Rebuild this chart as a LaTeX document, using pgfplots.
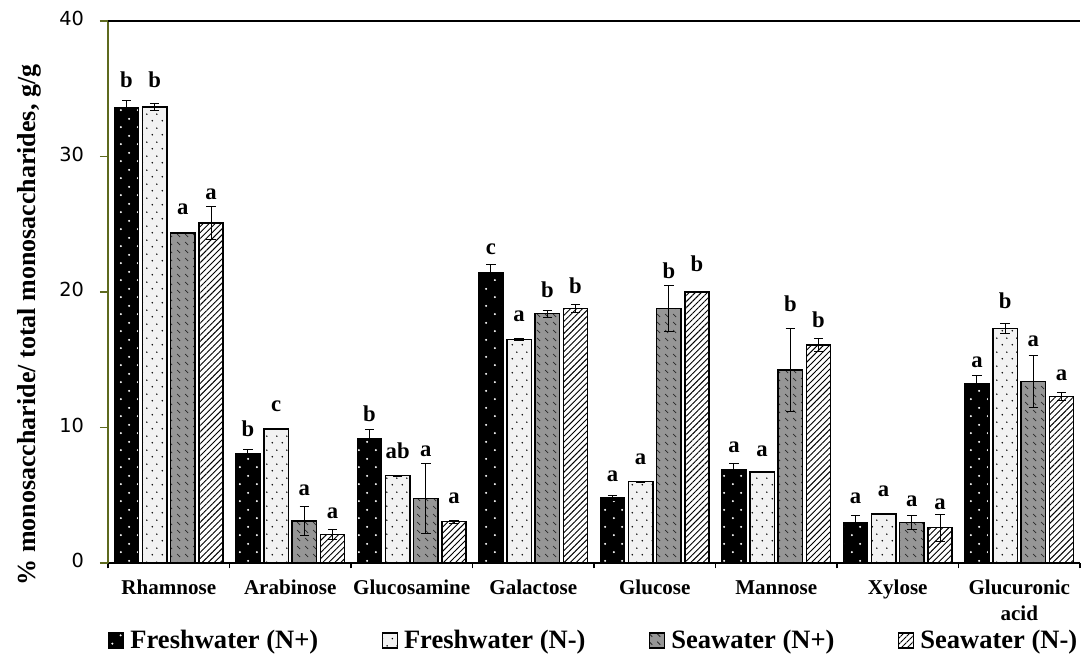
\documentclass[border=0pt]{standalone}
\usepackage{fontspec}
\setmainfont{Liberation Serif}
\newfontfamily\ticksans{DejaVu Sans}
\usepackage{pgfplots}
\usepackage{pgfplotstable}
\pgfplotsset{compat=1.18}
\usetikzlibrary{patterns,patterns.meta}
\definecolor{olivec}{RGB}{94,106,30}
\definecolor{lightfill}{RGB}{242,242,242}
\definecolor{grayfill}{RGB}{150,150,150}
\definecolor{dashc}{RGB}{40,40,40}

\pgfdeclarepatternformonly{bigdots}{\pgfpointorigin}{\pgfpoint{12.5pt}{12.5pt}}{\pgfpoint{12.5pt}{12.5pt}}{
  \pgfpathcircle{\pgfpoint{3pt}{3pt}}{0.85pt}
  \pgfpathcircle{\pgfpoint{9.25pt}{9.25pt}}{0.85pt}
  \pgfusepath{fill}}
\pgfdeclarepatternformonly{smalldots}{\pgfpointorigin}{\pgfpoint{7.5pt}{10.5pt}}{\pgfpoint{7.5pt}{10.5pt}}{
  \pgfpathcircle{\pgfpoint{1.875pt}{2.625pt}}{0.65pt}
  \pgfpathcircle{\pgfpoint{5.625pt}{7.875pt}}{0.65pt}
  \pgfusepath{fill}}
\pgfdeclarepatternformonly{dashdiag}{\pgfpointorigin}{\pgfpoint{6pt}{6pt}}{\pgfpoint{6pt}{6pt}}{
  \pgfsetlinewidth{0.6pt}
  \pgfpathmoveto{\pgfpoint{1pt}{5pt}}
  \pgfpathlineto{\pgfpoint{3.5pt}{2.5pt}}
  \pgfusepath{stroke}}

% x y err lab lb(label baseline)
\pgfplotstableread{
x y err lab lb
0 33.6 0.5 b 35.1
1 8.1 0.25 b 9.35
2 9.2 0.65 b 10.45
3 21.4 0.6 c 22.8
4 4.8 0.2 a 6.0
5 6.9 0.45 a 8.15
6 3.0 0.5 a 4.4
7 13.2 0.65 a 14.4
}\fwp
\pgfplotstableread{
x y err lab lb
0 33.65 0.25 b 35.1
1 9.9 0.05 c 11.2
2 6.45 0.03 ab 7.7
3 16.5 0.1 a 17.8
4 6.0 0.05 a 7.25
5 6.7 0.03 a 7.85
6 3.6 0.03 a 4.9
7 17.3 0.35 b 18.8
}\fwm
\pgfplotstableread{
x y err lab lb
0 24.35 0.05 a 25.7
1 3.1 1.05 a 5.0
2 4.75 2.6 a 7.85
3 18.4 0.25 b 19.6
4 18.8 1.7 b 21.0
5 14.25 3.05 b 18.55
6 3.0 0.5 a 4.2
7 13.4 1.9 a 16.0
}\swp
\pgfplotstableread{
x y err lab lb
0 25.1 1.2 a 26.8
1 2.1 0.35 a 3.3
2 3.05 0.12 a 4.4
3 18.8 0.3 b 19.9
4 20.0 0.05 b 21.5
5 16.1 0.5 b 17.35
6 2.6 1.0 a 3.95
7 12.3 0.3 a 13.5
}\swm

\pgfplotsset{
  errlab/.style={ybar, bar width=0.2, bar shift=0, draw=none, fill=none, forget plot,
    point meta=explicit symbolic,
    visualization depends on={\thisrow{lb}-\thisrow{y} \as \dlab},
    nodes near coords,
    nodes near coords style={anchor=base, inner sep=0pt, yshift=\dlab*10.1625pt,
      font=\bfseries\fontsize{17}{20}\selectfont, text=black},
    error bars/.cd, y dir=both, y explicit,
    error bar style={draw=black, solid, line width=0.75pt},
    error mark options={rotate=90, mark size=3.5pt, draw=black, line width=0.75pt}},
}

\begin{document}
\begin{tikzpicture}
\useasboundingbox (-81pt,-69.75pt) rectangle (733.5pt,422.25pt);
\begin{axis}[
  at={(0,0)}, anchor=south west,
  scale only axis, width=729pt, height=406.5pt,
  xmin=-0.5, xmax=7.5, ymin=0, ymax=40,
  clip=false,
  axis x line*=bottom, axis y line*=left,
  x axis line style={-, black, line width=0.9pt},
  y axis line style={-, olivec, line width=0.9pt},
  tick align=outside,
  major tick length=6pt, minor tick length=4pt,
  ytick={0,10,20,30,40},
  every major y tick/.append style={olivec, line width=0.9pt},
  xtick={0,...,7},
  xticklabels={Rhamnose,Arabinose,Glucosamine,Galactose,Glucose,Mannose,Xylose,{Glucuronic\\acid}},
  every major x tick/.append style={draw=none},
  minor xtick={-0.5,0.5,...,7.5},
  every minor x tick/.append style={draw=black, line width=0.9pt},
  typeset ticklabels with strut,
  xticklabel style={font=\bfseries\fontsize{15.8}{19}\selectfont, align=center, anchor=north, yshift=-1pt},
  yticklabel style={font=\ticksans\fontsize{14.5}{17}\selectfont, xshift=-8.5pt},
  /pgf/number format/assume math mode=true,
  extra y ticks={40}, extra y tick labels={},
  extra y tick style={grid=major, major grid style={black, line width=0.9pt}},
  ylabel={\% monosaccharide/ total monosaccharides, g/g},
  ylabel style={font=\bfseries\fontsize{19.5}{23}\selectfont, at={(axis description cs:-0.0813,0.439)}, anchor=center},
  legend columns=4,
  legend cell align=left,
  legend image code/.code={\draw[#1] (0pt,-5.6pt) rectangle (11.25pt,5.6pt);},
  legend style={at={(axis description cs:0,-0.124)}, anchor=north west, draw=none, fill=none,
    inner sep=0pt, outer sep=0pt, font=\bfseries\fontsize{19.9}{23}\selectfont,
    nodes={inner sep=0pt},
    /tikz/every odd column/.append style={column sep=4.5pt},
    /tikz/every even column/.append style={column sep=47.5pt}},
]
\addplot[ybar, bar width=0.2, bar shift=-0.348, draw=black, line width=1.1pt,
  preaction={fill=black}, pattern=bigdots, pattern color=white] table[x=x,y=y]{\fwp};
\addlegendentry{Freshwater (N+)}
\addplot[ybar, bar width=0.2, bar shift=-0.116, draw=black, line width=1.1pt,
  preaction={fill=lightfill}, pattern=smalldots, pattern color=black] table[x=x,y=y]{\fwm};
\addlegendentry{Freshwater (N-)}
\addplot[ybar, bar width=0.2, bar shift=0.116, draw=black, line width=1.1pt,
  preaction={fill=grayfill}, pattern=dashdiag, pattern color=dashc] table[x=x,y=y]{\swp};
\addlegendentry{Seawater (N+)}
\addplot[ybar, bar width=0.2, bar shift=0.348, draw=black, line width=1.1pt,
  preaction={fill=white}, pattern={Lines[angle=45, distance=3.2pt, line width=0.7pt]}, pattern color=black] table[x=x,y=y]{\swm};
\addlegendentry{Seawater (N-)}

\addplot[errlab] table[x expr=\thisrow{x}-0.348, y=y, y error=err, meta=lab]{\fwp};
\addplot[errlab] table[x expr=\thisrow{x}-0.116, y=y, y error=err, meta=lab]{\fwm};
\addplot[errlab] table[x expr=\thisrow{x}+0.116, y=y, y error=err, meta=lab]{\swp};
\addplot[errlab] table[x expr=\thisrow{x}+0.348, y=y, y error=err, meta=lab]{\swm};
\end{axis}
\end{tikzpicture}
\end{document}
